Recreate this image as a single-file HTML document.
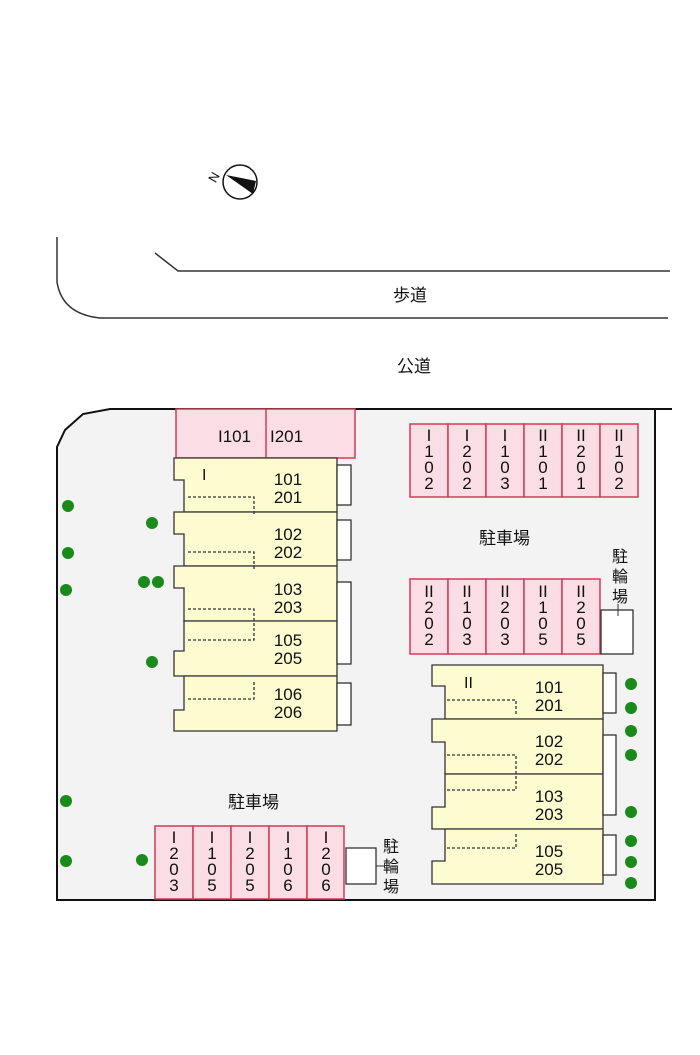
<!DOCTYPE html>
<html><head><meta charset="utf-8"><style>
html,body{margin:0;padding:0;background:#fff;}
svg text{font-family:"Liberation Sans","Noto Sans CJK JP",sans-serif;fill:#111;}
</style></head><body>
<svg width="700" height="1050" viewBox="0 0 700 1050" xmlns="http://www.w3.org/2000/svg">
<!-- compass -->
<circle cx="240" cy="182" r="17" fill="#fff" stroke="#111" stroke-width="1.5"/>
<polygon points="226,175 256,181 253,194" fill="#111"/>
<text x="210" y="182" font-size="13" transform="rotate(-60 214 178)">N</text>
<!-- road -->
<path d="M57,237 L57,282 Q62,314 100,318 L668,318" fill="none" stroke="#333" stroke-width="1.5"/>
<path d="M155,253 L178,271 L670,271" fill="none" stroke="#333" stroke-width="1.5"/>
<text x="393" y="301" font-size="17">歩道</text>
<text x="397" y="372" font-size="17">公道</text>
<!-- site -->
<path d="M57,900 L57,447 L65,430 L83,414 L110,409 L655,409 L655,900 Z" fill="#f3f3f3" stroke="#111" stroke-width="2"/>
<line x1="655" y1="409" x2="672" y2="409" stroke="#111" stroke-width="2"/>
<!-- I top parking -->
<rect x="176" y="409" width="179" height="49" fill="#fbdde6" stroke="#d33b57" stroke-width="1.5"/>
<line x1="266" y1="409" x2="266" y2="458" stroke="#d33b57" stroke-width="1.5"/>
<text x="218" y="442" font-size="17">I101</text>
<text x="270" y="442" font-size="17">I201</text>
<!-- building I -->
<g fill="#fdfbd0" stroke="#333" stroke-width="1.3">
<path d="M174,458 H337 V512 H184 V480 H174 Z"/>
<path d="M174,512 H337 V566 H184 V534 H174 Z"/>
<path d="M174,566 H337 V621 H184 V588 H174 Z"/>
<path d="M184,621 H337 V676 H174 V651 H184 Z"/>
<path d="M184,676 H337 V731 H174 V710 H184 Z"/>
</g>
<g fill="#fff" stroke="#333" stroke-width="1.3">
<rect x="337" y="465" width="14" height="40"/>
<rect x="337" y="520" width="14" height="40"/>
<rect x="337" y="582" width="14" height="82"/>
<rect x="337" y="683" width="14" height="42"/>
</g>
<g fill="none" stroke="#333" stroke-width="1.3" stroke-dasharray="3,2">
<path d="M188,497 H254 V515"/>
<path d="M188,552 H254 V570"/>
<path d="M188,609 H254 V640 H188"/>
<path d="M188,699 H254 V680"/>
</g>
<text x="202" y="480" font-size="16" font-family="Liberation Serif">I</text>
<g font-size="17" text-anchor="middle">
<text x="288" y="485">101</text><text x="288" y="503">201</text>
<text x="288" y="540">102</text><text x="288" y="558">202</text>
<text x="288" y="595">103</text><text x="288" y="613">203</text>
<text x="288" y="646">105</text><text x="288" y="664">205</text>
<text x="288" y="700">106</text><text x="288" y="718">206</text>
</g>
<!-- parking -->
<g fill="#fbdde6" stroke="#d33b57" stroke-width="1.5">
<rect x="410" y="424" width="38" height="73"/><rect x="448" y="424" width="38" height="73"/>
<rect x="486" y="424" width="38" height="73"/><rect x="524" y="424" width="38" height="73"/>
<rect x="562" y="424" width="38" height="73"/><rect x="600" y="424" width="38" height="73"/>
<rect x="410" y="579" width="38" height="75"/><rect x="448" y="579" width="38" height="75"/>
<rect x="486" y="579" width="38" height="75"/><rect x="524" y="579" width="38" height="75"/>
<rect x="562" y="579" width="38" height="75"/>
<rect x="155" y="826" width="38" height="73"/><rect x="193" y="826" width="38" height="73"/>
<rect x="231" y="826" width="38" height="73"/><rect x="269" y="826" width="38" height="73"/>
<rect x="307" y="826" width="37" height="73"/>
</g>
<g font-size="17" text-anchor="middle">
<text x="429" y="441">I</text><text x="429" y="457">1</text><text x="429" y="473">0</text><text x="429" y="489">2</text>
<text x="467" y="441">I</text><text x="467" y="457">2</text><text x="467" y="473">0</text><text x="467" y="489">2</text>
<text x="505" y="441">I</text><text x="505" y="457">1</text><text x="505" y="473">0</text><text x="505" y="489">3</text>
<text x="543" y="441">II</text><text x="543" y="457">1</text><text x="543" y="473">0</text><text x="543" y="489">1</text>
<text x="581" y="441">II</text><text x="581" y="457">2</text><text x="581" y="473">0</text><text x="581" y="489">1</text>
<text x="619" y="441">II</text><text x="619" y="457">1</text><text x="619" y="473">0</text><text x="619" y="489">2</text>
<text x="429" y="597">II</text><text x="429" y="613">2</text><text x="429" y="629">0</text><text x="429" y="645">2</text>
<text x="467" y="597">II</text><text x="467" y="613">1</text><text x="467" y="629">0</text><text x="467" y="645">3</text>
<text x="505" y="597">II</text><text x="505" y="613">2</text><text x="505" y="629">0</text><text x="505" y="645">3</text>
<text x="543" y="597">II</text><text x="543" y="613">1</text><text x="543" y="629">0</text><text x="543" y="645">5</text>
<text x="581" y="597">II</text><text x="581" y="613">2</text><text x="581" y="629">0</text><text x="581" y="645">5</text>
<text x="174" y="843">I</text><text x="174" y="859">2</text><text x="174" y="875">0</text><text x="174" y="891">3</text>
<text x="212" y="843">I</text><text x="212" y="859">1</text><text x="212" y="875">0</text><text x="212" y="891">5</text>
<text x="250" y="843">I</text><text x="250" y="859">2</text><text x="250" y="875">0</text><text x="250" y="891">5</text>
<text x="288" y="843">I</text><text x="288" y="859">1</text><text x="288" y="875">0</text><text x="288" y="891">6</text>
<text x="326" y="843">I</text><text x="326" y="859">2</text><text x="326" y="875">0</text><text x="326" y="891">6</text>
</g>
<text x="479" y="544" font-size="17">駐車場</text>
<text x="228" y="808" font-size="17">駐車場</text>
<g font-size="16" text-anchor="middle">
<text x="620" y="562">駐</text><text x="620" y="582">輪</text><text x="620" y="602">場</text>
<text x="391" y="852">駐</text><text x="391" y="872">輪</text><text x="391" y="892">場</text>
</g>
<rect x="601" y="610" width="32" height="44" fill="#fff" stroke="#333" stroke-width="1.3"/>
<line x1="618" y1="604" x2="618" y2="616" stroke="#333"/>
<rect x="346" y="848" width="30" height="36" fill="#fff" stroke="#333" stroke-width="1.3"/>
<line x1="376" y1="866" x2="385" y2="866" stroke="#333"/>
<!-- building II -->
<g fill="#fdfbd0" stroke="#333" stroke-width="1.3">
<path d="M432,665 H603 V719 H445 V686 H432 Z"/>
<path d="M432,719 H603 V774 H445 V742 H432 Z"/>
<path d="M445,774 H603 V829 H432 V807 H445 Z"/>
<path d="M445,829 H603 V884 H432 V861 H445 Z"/>
</g>
<g fill="#fff" stroke="#333" stroke-width="1.3">
<rect x="603" y="673" width="13" height="40"/>
<rect x="603" y="735" width="13" height="80"/>
<rect x="603" y="835" width="13" height="40"/>
</g>
<g fill="none" stroke="#333" stroke-width="1.3" stroke-dasharray="3,2">
<path d="M447,700 H516 V715"/>
<path d="M447,755 H516 V790 H447"/>
<path d="M447,848 H516 V832"/>
</g>
<text x="464" y="688" font-size="16" font-family="Liberation Serif">II</text>
<g font-size="17" text-anchor="middle">
<text x="549" y="693">101</text><text x="549" y="711">201</text>
<text x="549" y="747">102</text><text x="549" y="765">202</text>
<text x="549" y="802">103</text><text x="549" y="820">203</text>
<text x="549" y="857">105</text><text x="549" y="875">205</text>
</g>
<!-- trees -->
<g fill="#1a8a1a">
<circle cx="68" cy="506" r="6"/><circle cx="152" cy="523" r="6"/><circle cx="68" cy="553" r="6"/>
<circle cx="144" cy="582" r="6"/><circle cx="158" cy="582" r="6"/><circle cx="66" cy="590" r="6"/>
<circle cx="152" cy="662" r="6"/><circle cx="66" cy="801" r="6"/><circle cx="66" cy="861" r="6"/>
<circle cx="142" cy="860" r="6"/>
<circle cx="631" cy="684" r="6"/><circle cx="631" cy="708" r="6"/><circle cx="631" cy="731" r="6"/>
<circle cx="631" cy="755" r="6"/><circle cx="631" cy="812" r="6"/><circle cx="631" cy="841" r="6"/>
<circle cx="631" cy="862" r="6"/><circle cx="631" cy="883" r="6"/>
</g>
</svg>
</body></html>
